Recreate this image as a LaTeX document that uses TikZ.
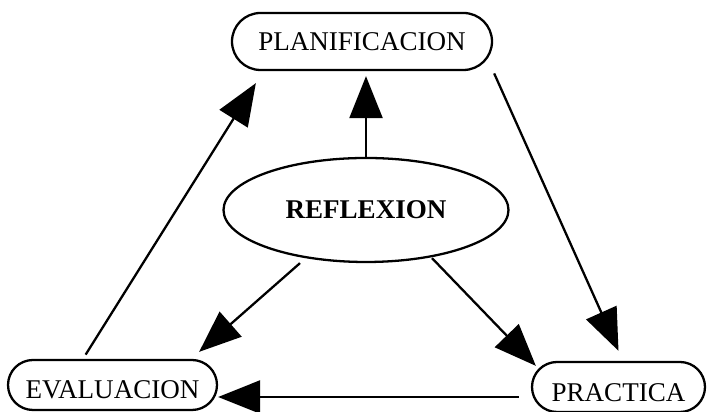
\documentclass[tikz,border=0pt]{standalone}
\usepackage{fontspec}
\setmainfont{Liberation Serif}
\usepackage{tikz}
\usetikzlibrary{arrows.meta}
\usetikzlibrary{shapes.geometric}

\begin{document}
\begin{tikzpicture}[
        caja/.style={draw, line width=1.3pt, rounded corners=0.5cm, font=\fontsize{15.4}{18}\selectfont},
        flecha/.style={line width=1.3pt, -{Triangle[length=0.84cm,width=0.66cm]}}
    ]

            \useasboundingbox (0,0) rectangle (14.14,8.24);

            \node[caja, minimum width=5.2cm, minimum height=1.14cm, rounded corners=0.57cm] (plan) at (7.24,7.41) {PLANIFICACION};
            \node[draw, ellipse, line width=1.3pt, minimum width=5.7cm, minimum height=2.08cm,
                  font=\fontsize{15.4}{18}\selectfont\bfseries] (refl) at (7.32,4.04) {REFLEXION};
            \node[caja, minimum width=4.18cm, minimum height=1cm, text height=0.55cm] (eval) at (2.25,0.54) {EVALUACION};
            \node[caja, minimum width=3.46cm, minimum height=1cm, text height=0.6cm] (prac) at (12.37,0.5) {PRACTICA};

            % flechas
            \draw[flecha, shorten >=0.1cm] (refl.north) -- (refl.north |- plan.south);
            \draw[flecha, shorten <=0.1cm] ([xshift=-0.59cm]eval.north) -- ([xshift=0.5cm,yshift=-0.24cm]plan.south west);
            \draw[flecha, shorten <=0.05cm] (plan.south east) -- ([yshift=0.2cm]prac.north);
            \draw[flecha] ([xshift=-1.32cm]refl.south) -- ([xshift=-0.38cm,yshift=0.14cm]eval.north east);
            \draw[flecha] ([xshift=1.32cm,yshift=0.1cm]refl.south) -- ([xshift=0.1cm,yshift=-0.1cm]prac.north west);
            \draw[flecha, shorten <=0.24cm] ([yshift=-0.2cm]prac.west) -- ([yshift=-0.2cm]prac.west -| eval.east);
        \end{tikzpicture}
\end{document}
